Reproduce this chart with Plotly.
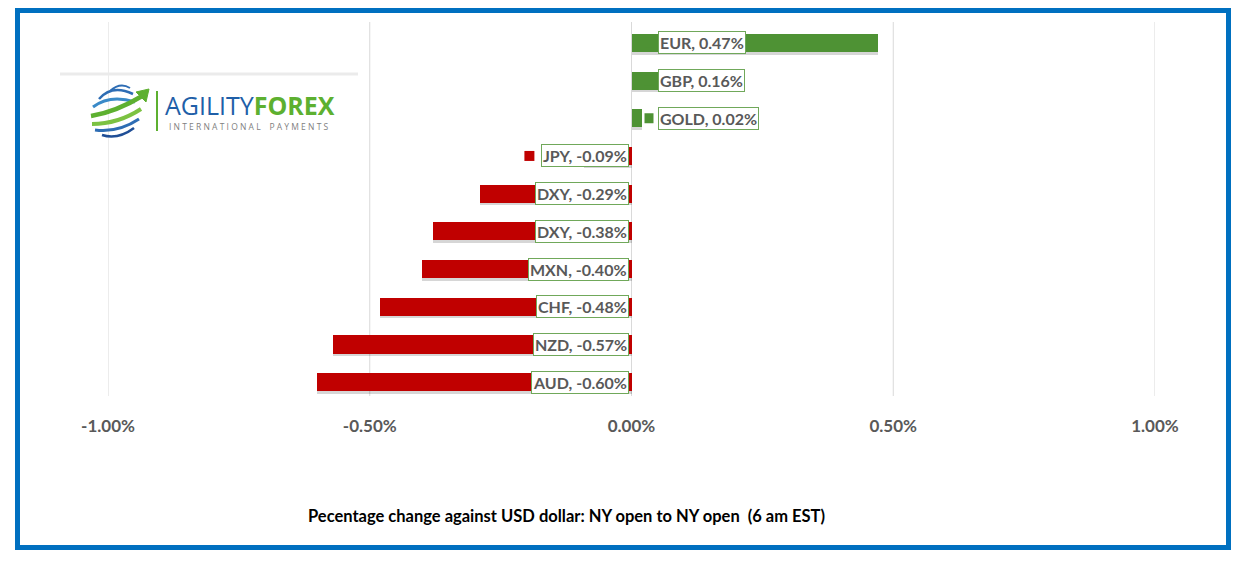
import plotly.graph_objects as go

currencies = ["EUR", "GBP", "GOLD", "JPY", "DXY", "DXY", "MXN", "CHF", "NZD", "AUD"]
changes = [0.47, 0.16, 0.02, -0.09, -0.29, -0.38, -0.40, -0.48, -0.57, -0.60]
tick_values = [-1.0, -0.5, 0.0, 0.5, 1.0]
title_text = "Pecentage change against USD dollar: NY open to NY open\u00a0\u00a0(6 am EST)"

W, H = 1242, 561
OFF = 8  # page body margin
GREEN = "#4E9234"
RED = "#C00000"
LABEL_BORDER = "#70A85A"
TXT = "#595959"

def px(x):
    return (x - OFF) / W

def py(y):
    return 1 - (y - OFF) / H

pos = list(range(len(currencies)))
colors = [GREEN if v >= 0 else RED for v in changes]

fig = go.Figure()
# soft drop shadow under bars
fig.add_trace(go.Bar(
    x=changes, y=pos, orientation="h", width=0.48, offset=-0.17,
    marker=dict(color="rgba(0,0,0,0.16)", line=dict(width=0)),
    hoverinfo="skip", showlegend=False,
))
fig.add_trace(go.Bar(
    x=changes, y=pos, orientation="h", width=0.48, offset=-0.24,
    marker=dict(color=colors, line=dict(width=0)),
    hoverinfo="skip", showlegend=False,
))

shapes = []
for t in tick_values:
    shapes.append(dict(type="line", xref="x", yref="paper", x0=t, x1=t,
                       y0=py(22), y1=py(396), line=dict(color="#D9D9D9", width=1), layer="below"))
shapes.append(dict(type="rect", xref="paper", yref="paper",
                   x0=px(17.5), x1=px(1228.5), y0=py(10.5), y1=py(547.5),
                   line=dict(color="#0070C0", width=5)))
shapes.append(dict(type="line", xref="paper", yref="paper", x0=px(60), x1=px(358),
                   y0=py(74), y1=py(74), line=dict(color="#EBEBEB", width=3)))
shapes.append(dict(type="line", xref="paper", yref="paper", x0=px(157), x1=px(157),
                   y0=py(91), y1=py(131), line=dict(color="#5DB030", width=2)))

def path_px(points):
    out = []
    for seg in points:
        cmd = seg[0]
        nums = seg[1:]
        conv = [f"{px(nums[i]):.5f},{py(nums[i+1]):.5f}" for i in range(0, len(nums), 2)]
        out.append(cmd + " " + " ".join(conv))
    return " ".join(out)

swooshes = [
    ([("M", 110, 91), ("Q", 120, 82, 130, 88)], "#2E6DB4", 2),
    ([("M", 99, 99), ("Q", 112, 84, 133, 94)], "#2E6DB4", 2.5),
    ([("M", 93, 107), ("Q", 110, 94, 135, 102)], "#3A8AC8", 3),
    ([("M", 91, 116), ("Q", 116, 112, 144, 95)], "#5DB030", 4.5),
    ([("M", 92, 124), ("Q", 118, 124, 141, 109)], "#7CC242", 4),
    ([("M", 95, 130), ("Q", 118, 133, 139, 119)], "#2E6DB4", 3),
    ([("M", 102, 135), ("Q", 118, 140, 134, 128)], "#1F4E96", 2.5),
]
for pts, col, w in swooshes:
    shapes.append(dict(type="path", xref="paper", yref="paper", path=path_px(pts),
                       line=dict(color=col, width=w)))
shapes.append(dict(type="path", xref="paper", yref="paper",
                   path=path_px([("M", 149, 89), ("L", 136, 92), ("L", 146, 102)]) + " Z",
                   fillcolor="#5DB030", line=dict(color="#5DB030", width=1)))

annotations = []
for i, (c, v) in enumerate(zip(currencies, changes)):
    label = f"{c}, {v:.2f}%"
    pos_side = v >= 0
    annotations.append(dict(x=0, y=i, xref="x", yref="y", text=label, showarrow=False,
                            xanchor="left" if pos_side else "right", yanchor="middle",
                            xshift=26 if pos_side else -3,
                            font=dict(family="Lato", size=16, color=TXT, weight="bold"),
                            bgcolor="white", bordercolor=LABEL_BORDER, borderwidth=1, borderpad=1))
    # legend key square left of each data label (Excel "legend key" in label)
    if pos_side:
        kx0, kx1 = 13, 22
    else:
        est_w = 8.1 * len(label) + 1
        kx1 = -3 - est_w - 4
        kx0 = kx1 - 10
    shapes.append(dict(type="rect", xref="x", xsizemode="pixel", xanchor=0, x0=kx0, x1=kx1,
                       yref="y", ysizemode="pixel", yanchor=i, y0=-5, y1=5,
                       fillcolor=colors[i], line=dict(width=0)))

annotations.append(dict(x=px(566), y=py(516), xref="paper", yref="paper", text=title_text,
                        showarrow=False, xanchor="center", yanchor="middle",
                        font=dict(family="Lato", size=16.5, color="#000000", weight="bold")))
annotations.append(dict(x=px(163), y=py(124), xref="paper", yref="paper",
                        text="<span style='color:#1F5FA8'>AGILITY</span><span style='color:#5DB030'><b>FOREX</b></span>",
                        showarrow=False, xanchor="left", yanchor="bottom",
                        font=dict(family="Open Sans", size=25)))
annotations.append(dict(x=px(167), y=py(119), xref="paper", yref="paper",
                        text="I N T E R N A T I O N A L\u00a0\u00a0\u00a0\u00a0P A Y M E N T S",
                        showarrow=False, xanchor="left", yanchor="top",
                        font=dict(family="Open Sans", size=8.5, color="#7F7F7F")))

fig.update_layout(
    template="none",
    width=W, height=H,
    margin=dict(l=0, r=0, t=0, b=0, autoexpand=False),
    paper_bgcolor="white", plot_bgcolor="white",
    barmode="overlay",
    xaxis=dict(range=[-1, 1], domain=[px(108), px(1155)], tickvals=tick_values,
               ticktext=[f"{t:.2f}%" for t in tick_values], automargin=False,
               showgrid=False, zeroline=False, showline=False, ticks="",
               ticklabelstandoff=13,
               tickfont=dict(family="Lato", size=17, color=TXT, weight="bold")),
    yaxis=dict(range=[9.5, -0.5], domain=[py(401), py(24)], visible=False, automargin=False),
    shapes=shapes, annotations=annotations, bargap=0,
)

fig.write_html("out.html")
